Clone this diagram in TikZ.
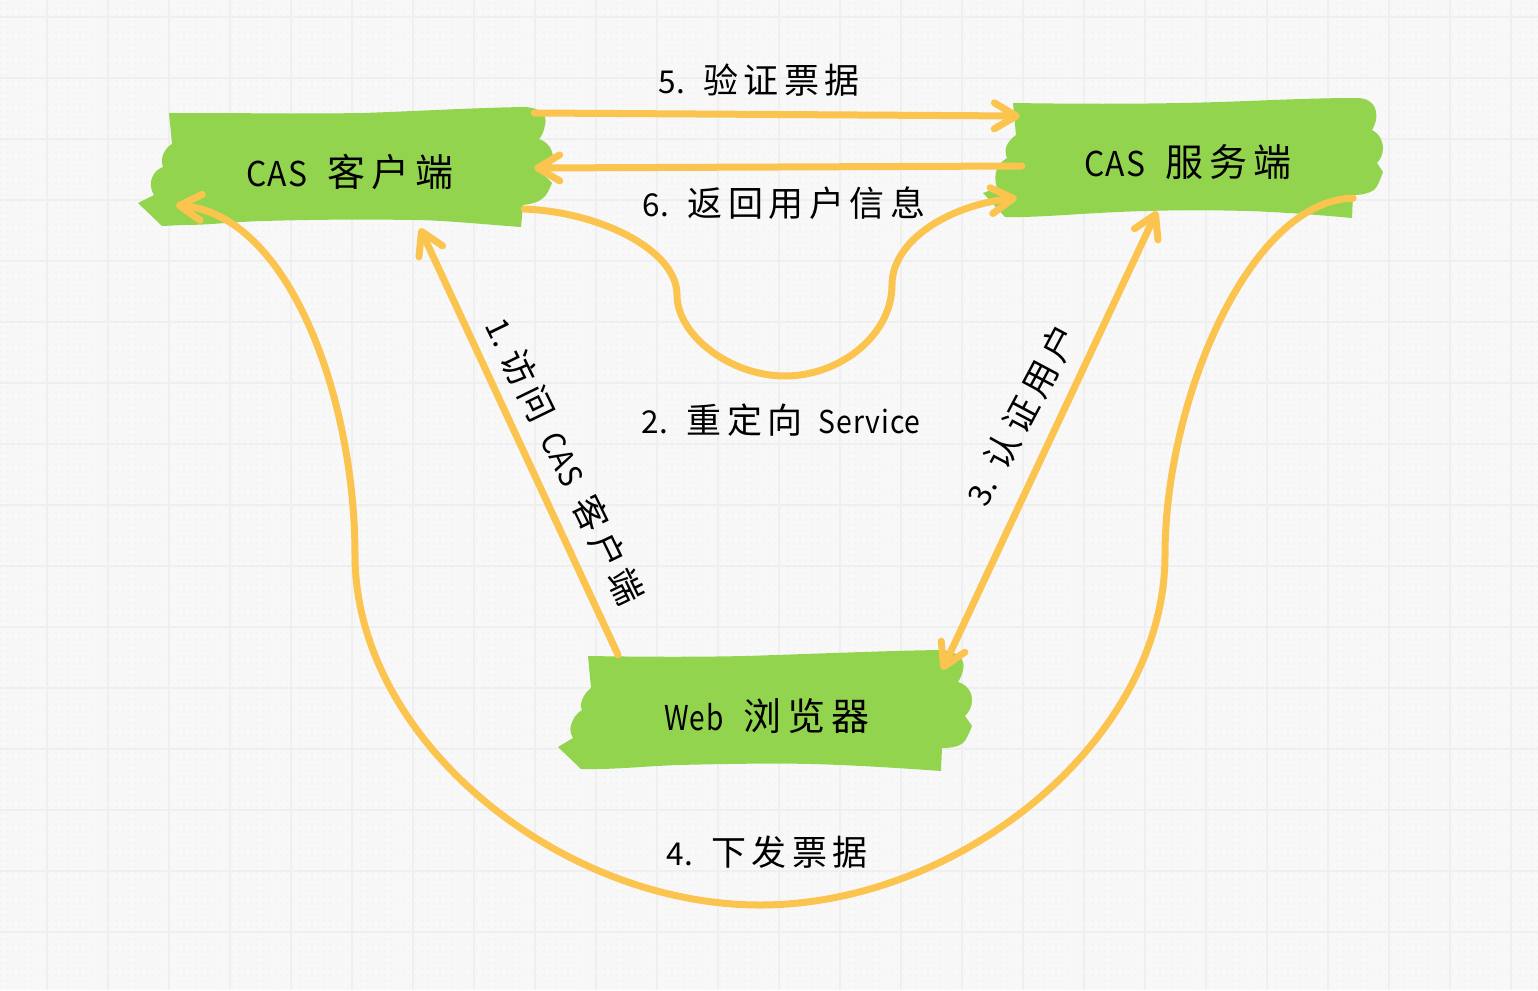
\documentclass[tikz,border=0pt]{standalone}
\usepackage{fontspec}
\setmainfont{Noto Sans CJK SC}[LetterSpace=16]
\newfontfamily\latinf{Noto Sans CJK SC}[LetterSpace=3,Scale=0.9]
\newcommand{\lat}[1]{{\latinf #1}}
\usetikzlibrary{arrows.meta,calc}
\definecolor{bgc}{HTML}{F8F8F8}
\definecolor{gridc}{HTML}{EFEFEF}
\definecolor{dotc}{HTML}{F3F3F3}
\definecolor{tapec}{HTML}{93D44F}
\definecolor{linec}{HTML}{FBC44E}
\tikzset{
  tape/.style={fill=tapec,draw=none,line join=round},
  boxlabel/.style={inner sep=0pt,text=black,font=\fontsize{38}{40}\selectfont,anchor=center},
  edgelabel/.style={inner sep=0pt,text=black,font=\fontsize{35}{37}\selectfont,anchor=center},
  conn/.style={draw=linec,line width=7pt,line cap=round,line join=round},
  tipp/.tip={Straight Barb[length=22pt,width=26pt,line width=7pt,round]},
  toarrow/.style={conn,-{tipp}},
  botharrow/.style={conn,{tipp}-{tipp}},
  gridl/.style={draw=gridc,line width=1.6pt},
  dotl/.style={draw=dotc,line width=1.6pt,dash pattern=on 1.6pt off 4.5pt}
}
\begin{document}
\begin{tikzpicture}[x=1pt,y=-1pt]
\useasboundingbox (0,0) rectangle (1538,990);
\fill[bgc] (0,0) rectangle (1538,990);
% paper
\foreach \yy in {3,9,...,990} {\draw[dotl] (0,\yy) -- (1538,\yy);}
\foreach \xx in {47,108,...,1538} {\draw[gridl] (\xx,0) -- (\xx,990);}
\foreach \yy in {17,78,...,990} {\draw[gridl] (0,\yy) -- (1538,\yy);}
% tapes
\path[tape] (169,113) .. controls (260,113) and (300,114) .. (363,113) .. controls (420,111) and (470,108) .. (523,107)
  .. controls (540,107) and (548,115) .. (545,125) .. controls (544,131) and (542,136) .. (539,139)
  .. controls (548,142) and (553,150) .. (553,158) .. controls (553,165) and (548,170) .. (542,173)
  -- (552,183) .. controls (549,190) and (547,195) .. (543,198) .. controls (538,203) and (530,204) .. (523,205)
  -- (521,227) .. controls (480,224) and (440,220) .. (413,220) .. controls (350,219) and (300,220) .. (263,221)
  .. controls (230,222) and (210,225) .. (183,225) -- (162,226) -- (138,203) -- (154,195)
  .. controls (150,188) and (150,183) .. (152,178) .. controls (154,172) and (158,169) .. (163,167)
  .. controls (161,162) and (162,158) .. (163,155) .. controls (165,150) and (168,146) .. (172,144) -- cycle;
\path[tape] (1013,103) .. controls (1080,104) and (1130,104) .. (1180,103) .. controls (1240,102) and (1300,98) .. (1357,98)
  .. controls (1372,98) and (1378,108) .. (1376,120) .. controls (1375,124) and (1374,127) .. (1372,130)
  .. controls (1380,134) and (1383,142) .. (1383,148) .. controls (1383,155) and (1380,160) .. (1377,163)
  -- (1383,172) .. controls (1380,180) and (1378,186) .. (1374,190) .. controls (1368,194) and (1360,195) .. (1353,195)
  -- (1352,218) .. controls (1320,215) and (1280,212) .. (1247,211) .. controls (1210,210) and (1180,210) .. (1147,211)
  .. controls (1100,212) and (1060,216) .. (1023,217) -- (1005,217) -- (983,193) -- (997,188)
  .. controls (995,182) and (995,177) .. (996,172) .. controls (998,165) and (1002,161) .. (1007,158)
  .. controls (1005,153) and (1005,149) .. (1007,145) .. controls (1009,141) and (1012,138) .. (1016,135) -- cycle;
\path[tape] (588,656) .. controls (650,657) and (700,657) .. (745,656) .. controls (810,654) and (880,651) .. (938,650)
  .. controls (958,650) and (966,660) .. (963,670) .. controls (962,675) and (960,679) .. (958,682)
  .. controls (968,685) and (972,693) .. (972,700) .. controls (972,707) and (969,712) .. (965,716)
  -- (972,726) .. controls (969,733) and (967,739) .. (963,743) .. controls (958,747) and (950,748) .. (942,748)
  -- (941,771) .. controls (900,768) and (850,765) .. (812,764) .. controls (770,763) and (720,764) .. (678,765)
  .. controls (650,766) and (620,769) .. (595,769) -- (581,769) -- (558,747) -- (573,738)
  .. controls (570,733) and (570,729) .. (571,725) .. controls (573,718) and (577,713) .. (582,710)
  .. controls (580,706) and (581,703) .. (582,700) .. controls (584,695) and (587,691) .. (591,688) -- cycle;
% nodes
\node[boxlabel,minimum width=350pt,minimum height=110pt] (client) at (350,172) {\lat{\scalebox{.93}[1]{CAS}}\hspace{20pt}客户端};
\node[boxlabel,minimum width=340pt,minimum height=110pt] (server) at (1188,162) {\lat{\scalebox{.93}[1]{CAS}}\hspace{20pt}服务端};
\node[boxlabel,minimum width=350pt,minimum height=110pt] (browser) at (767,716) {\lat{\scalebox{.82}[1]{Web}}\hspace{20pt}浏览器};
% connectors
\draw[toarrow] ([shift={(9pt,59pt)}]client.east) -- ([shift={(2pt,46pt)}]server.west);
\draw[toarrow] ([shift={(4pt,-4pt)}]server.west) -- ([shift={(9pt,4pt)}]client.east);
\draw[toarrow] ([shift={(-1pt,-37pt)}]client.east) .. controls (600,212) and (677,250) .. (677,295)
  .. controls (677,335) and (730,376) .. (785,376) .. controls (840,376) and (892,335) .. (892,285)
  .. controls (892,240) and (950,205) .. ([shift={(-1pt,-36pt)}]server.west);
\draw[toarrow] ([shift={(-149pt,6pt)}]browser.north) -- ([shift={(70pt,-1pt)}]client.south);
\draw[botharrow] ([shift={(-31pt,6pt)}]server.south) -- ([yshift=-9pt]browser.north east);
\draw[toarrow] ([shift={(-5pt,19pt)}]server.south east) .. controls (1250,200) and (1165,400) .. (1165,555)
  .. controls (1165,740) and (960,905) .. (760,905) .. controls (560,905) and (355,740) .. (355,555)
  .. controls (355,400) and (290,215) .. ([shift={(1pt,22pt)}]client.south west);
% labels
\node[edgelabel] (l5) at (759,80) {\lat{5.}\hspace{18pt}验证票据};
\node[edgelabel] (l6) at (784,203) {\lat{6.}\hspace{18pt}返回用户信息};
\node[edgelabel] (l2) at (781,420) {\lat{2.}\hspace{18pt}重定向\hspace{16pt}\lat{\scalebox{.9}[1]{Service}}};
\node[edgelabel] (l4) at (767,852) {\lat{4.}\hspace{18pt}下发票据};
\node[edgelabel,rotate=-64] (l1) at (565,461) {\lat{1.}\hspace{8pt}访问\hspace{16pt}\lat{\scalebox{.93}[1]{CAS}}\hspace{16pt}客户端};
\node[edgelabel,rotate=62] (l3) at (1021,415) {\lat{3.}\hspace{14pt}认证用户};
\end{tikzpicture}
\end{document}
